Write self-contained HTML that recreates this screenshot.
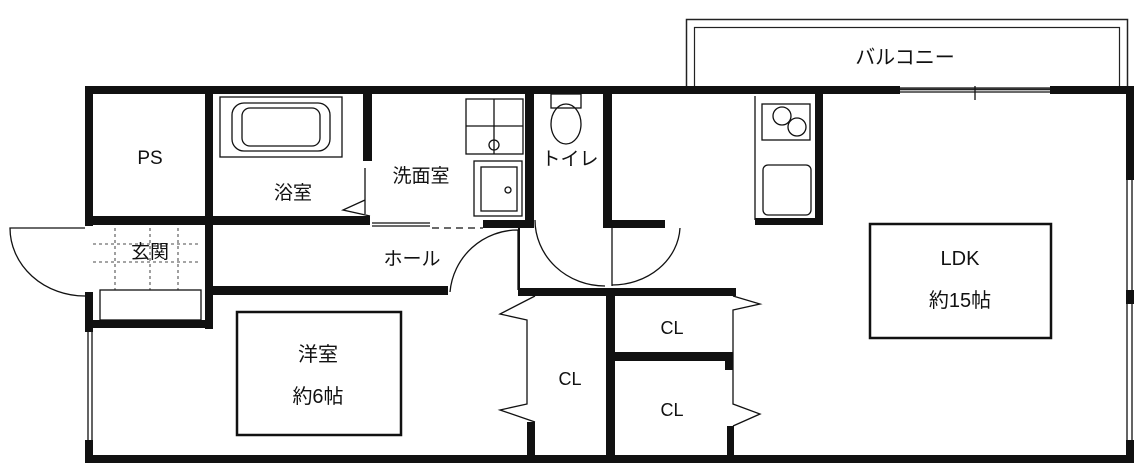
<!DOCTYPE html>
<html><head><meta charset="utf-8"><style>
html,body{margin:0;padding:0;background:#fff;}
svg{display:block;}
text{font-family:"Liberation Sans","Noto Sans CJK JP",sans-serif;fill:#111;}
</style></head><body>
<svg width="1141" height="475" viewBox="0 0 1141 475" xmlns="http://www.w3.org/2000/svg">
<rect width="1141" height="475" fill="#fff"/>
<!-- balcony -->
<rect x="686.5" y="19.5" width="441" height="70" fill="none" stroke="#222" stroke-width="1.5"/>
<rect x="694.5" y="27.5" width="425" height="62" fill="none" stroke="#222" stroke-width="1.2"/>
<text x="905" y="64" font-size="20" text-anchor="middle">バルコニー</text>

<g fill="#111">
<!-- outer walls -->
<rect x="85" y="86" width="815" height="8"/>
<rect x="1050" y="86" width="84" height="8"/>
<rect x="85" y="455" width="1049" height="8"/>
<rect x="85" y="86" width="8" height="140"/>
<rect x="85" y="292" width="8" height="40"/>
<rect x="85" y="440" width="8" height="20"/>
<rect x="1126" y="86" width="8" height="94"/>
<rect x="1126" y="290" width="8" height="14"/>
<rect x="1126" y="440" width="8" height="20"/>
<!-- PS / bath -->
<rect x="205" y="86" width="8" height="140"/>
<rect x="85" y="216" width="285" height="9"/>
<rect x="363" y="86" width="9" height="75"/>
<!-- wash / toilet -->
<rect x="525" y="86" width="9" height="142"/>
<rect x="483" y="220" width="50" height="8"/>
<rect x="603" y="86" width="9" height="136"/>
<rect x="603" y="220" width="62" height="8"/>
<!-- hall -->
<rect x="205" y="225" width="8" height="104"/>
<rect x="93" y="320" width="119" height="8"/>
<rect x="205" y="286" width="243" height="9"/>
<rect x="518" y="288" width="218" height="8"/>
<rect x="518" y="228" width="2" height="62"/>
<!-- closets -->
<rect x="606" y="290" width="9" height="170"/>
<rect x="615" y="352" width="113" height="9"/>
<rect x="725" y="352" width="8" height="18"/>
<rect x="527" y="422" width="8" height="36"/>
<rect x="727" y="426" width="7" height="32"/>
<!-- kitchen -->
<rect x="815" y="94" width="8" height="130"/>
<rect x="755" y="218" width="68" height="7"/>
</g>

<g fill="none" stroke="#111" stroke-width="1.3">
<!-- windows -->
<line x1="900" y1="88" x2="1050" y2="88"/><line x1="900" y1="92" x2="1050" y2="92"/>
<line x1="975" y1="86" x2="975" y2="100"/>
<line x1="1127" y1="180" x2="1127" y2="290"/><line x1="1132" y1="180" x2="1132" y2="290"/>
<line x1="1127" y1="304" x2="1127" y2="440"/><line x1="1132" y1="304" x2="1132" y2="440"/>
<line x1="88" y1="332" x2="88" y2="440"/><line x1="92" y1="332" x2="92" y2="440"/>
<!-- entrance door -->
<path d="M85 228 L10 228 A75 68 0 0 0 85 296"/>
<rect x="100" y="290" width="101" height="30"/>
<path d="M93 244 H200 M93 262 H200 M115 228 V290 M150 228 V290 M178 228 V290" stroke-dasharray="3 3" stroke-width="0.8"/>
<!-- bathtub -->
<rect x="220" y="97" width="122" height="60"/>
<rect x="232" y="103" width="98" height="48" rx="12"/>
<rect x="242" y="108" width="78" height="38" rx="8"/>
<!-- bath door -->
<path d="M365 168 V214 M365 200 L343 210 L370 216"/>
<!-- wash room -->
<line x1="372" y1="223" x2="430" y2="223"/>
<line x1="372" y1="226" x2="430" y2="226"/>
<line x1="432" y1="228" x2="483" y2="228" stroke-dasharray="7 5"/>
<rect x="466" y="99" width="57" height="55"/>
<path d="M494 99 V154 M466 126 H523"/>
<circle cx="494" cy="145" r="5"/>
<rect x="474" y="161" width="48" height="55"/>
<rect x="481" y="167" width="36" height="44"/>
<circle cx="508" cy="190" r="3"/>
<!-- toilet -->
<rect x="551" y="94" width="30" height="14"/>
<ellipse cx="566" cy="124" rx="15" ry="20"/>
<path d="M535 220 A70 66 0 0 0 605 286"/>
<!-- hall door -->
<path d="M518 230 A68 68 0 0 0 450 292 M518 230 V290"/>
<!-- toilet door right -->
<path d="M612 228 V286 M612 285 A68 60 0 0 0 680 228"/>
<!-- closets -->
<path d="M535 296 L500 314 L527 320 V404 L500 410 L535 422"/>
<path d="M733 296 L760 304 L733 310 V404 L760 414 L733 426"/>
<!-- kitchen -->
<rect x="762" y="104" width="48" height="36"/>
<circle cx="782" cy="116" r="9"/><circle cx="797" cy="127" r="9"/>
<rect x="763" y="165" width="48" height="50" rx="5"/>
<path d="M755 96 V220"/>
<!-- label boxes -->
<rect x="237" y="312" width="164" height="123" stroke-width="2.5"/>
<rect x="870" y="224" width="181" height="114" stroke-width="2.5"/>
</g>

<text x="150" y="164" font-size="19" text-anchor="middle">PS</text>
<text x="293" y="199" font-size="19" text-anchor="middle">浴室</text>
<text x="421" y="182" font-size="19" text-anchor="middle">洗面室</text>
<text x="570" y="165" font-size="19" text-anchor="middle">トイレ</text>
<text x="150" y="258" font-size="19" text-anchor="middle">玄関</text>
<text x="412" y="265" font-size="19" text-anchor="middle">ホール</text>
<text x="318" y="361" font-size="20" text-anchor="middle">洋室</text>
<text x="318" y="403" font-size="20" text-anchor="middle">約6帖</text>
<text x="960" y="265" font-size="20" text-anchor="middle">LDK</text>
<text x="960" y="307" font-size="20" text-anchor="middle">約15帖</text>
<text x="672" y="334" font-size="18" text-anchor="middle">CL</text>
<text x="570" y="385" font-size="18" text-anchor="middle">CL</text>
<text x="672" y="416" font-size="18" text-anchor="middle">CL</text>
</svg>
</body></html>
